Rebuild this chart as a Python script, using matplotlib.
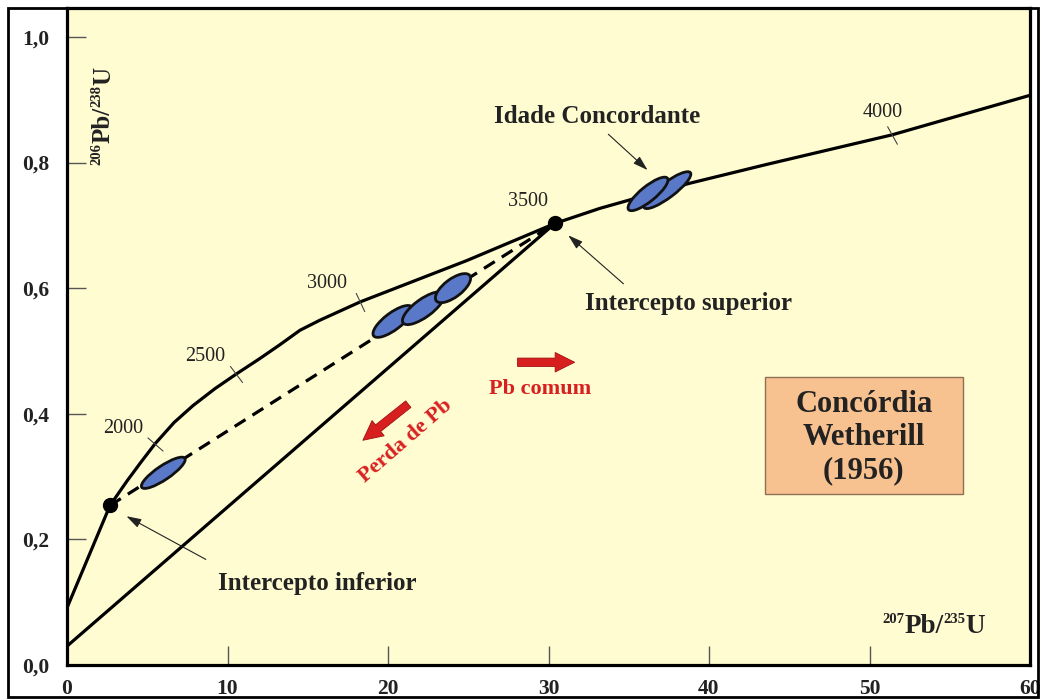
import numpy as np
import matplotlib.pyplot as plt
from matplotlib.patches import Ellipse, FancyArrowPatch, Rectangle
from matplotlib.transforms import ScaledTranslation

plt.rcParams['font.family'] = ['Liberation Serif', 'DejaVu Serif']

# Concordia curve
concordia_x = [0, 2.68, 3.74, 4.61, 5.48, 6.67, 7.85, 9.22, 10.59, 12.02, 13.27, 14.52,
               15.76, 18.26, 24.92, 30.4, 33.2, 36.8, 38.8, 43.6, 51.4, 60]
concordia_y = [0.091, 0.254, 0.293, 0.323, 0.352, 0.386, 0.413, 0.440, 0.464, 0.488,
               0.510, 0.533, 0.549, 0.578, 0.644, 0.703, 0.727, 0.753, 0.767, 0.797,
               0.844, 0.907]

# Intercepts (lower, upper) and origin of the solid discordia
intercept_x = [2.68, 30.4]
intercept_y = [0.254, 0.703]
discordia_x = [0, 30.4]
discordia_y = [0.030, 0.703]

# Age marks on the concordia
age_labels = ['2000', '2500', '3000', '3500', '4000']
age_tick_x = [5.5, 10.56, 18.26, None, 51.43]
age_tick_y = [0.352, 0.463, 0.578, None, 0.844]
age_tick_rot = [49, 37, 25, None, 29]
age_label_x = [3.49, 8.6, 16.2, 28.7, 50.8]
age_label_y = [0.376, 0.491, 0.608, 0.738, 0.880]

# Zircon analyses (error ellipses)
ell_x = [6.0, 20.3, 22.2, 24.05, 37.4, 36.2]
ell_y = [0.306, 0.547, 0.568, 0.600, 0.756, 0.750]
ell_len = [52, 48, 50, 42, 58, 50]   # pixels
ell_wid = [14, 17, 18, 18, 15, 15]
ell_rot = [34, 37, 36, 37, 37, 39]

x_ticks = [0, 10, 20, 30, 40, 50, 60]
y_ticks = [0.0, 0.2, 0.4, 0.6, 0.8, 1.0]
y_ticklabels = ['0,0', '0,2', '0,4', '0,6', '0,8', '1,0']

bg = '#fffcd2'
ell_color = '#5a78c8'
red = '#d81f1f'
ink = '#222222'

fig = plt.figure(figsize=(10.4, 7), dpi=100)
ax = fig.add_axes([67 / 1040, 35 / 700, 963 / 1040, 657 / 700])
ax.set_facecolor(bg)
ax.set_xlim(0, 60)
ax.set_ylim(0, 1.046)

# curves
ax.plot(concordia_x, concordia_y, color='black', lw=2.3, solid_joinstyle='round', zorder=3)
ax.plot(discordia_x, discordia_y, color='black', lw=2.3, zorder=3)
ax.plot(intercept_x, intercept_y, color='black', lw=2.3, linestyle=(0, (4, 2.6)), zorder=3)
ax.plot(intercept_x, intercept_y, 'o', color='black', markersize=10, zorder=6)

# age ticks + labels
for lab, tx, ty, rot, lx, ly in zip(age_labels, age_tick_x, age_tick_y, age_tick_rot,
                                   age_label_x, age_label_y):
    if tx is not None:
        ax.plot([tx], [ty], marker=(2, 0, rot), markersize=15, markeredgewidth=0.8,
                color='#444444', zorder=4)
    ax.text(lx, ly, lab, fontsize=14.5, ha='center', va='center', color=ink)

# ellipses, sized in pixels around a data centre
for ex, ey, el, ew, er in zip(ell_x, ell_y, ell_len, ell_wid, ell_rot):
    tr = fig.dpi_scale_trans + ScaledTranslation(ex, ey, ax.transData)
    e = Ellipse((0, 0), el / 100, ew / 100, angle=er, transform=tr,
                facecolor=ell_color, edgecolor='#111111', lw=2, zorder=5)
    ax.add_patch(e)

# annotations
bold = dict(fontsize=18, fontweight='bold', color=ink, ha='center', va='center')
ax.text(33.0, 0.874, 'Idade Concordante', **bold)
ax.text(38.7, 0.576, 'Intercepto superior', **bold)
ax.text(15.6, 0.129, 'Intercepto inferior', **bold)

thin = dict(arrowstyle='-|>,head_length=0.9,head_width=0.28', color=ink, lw=0.8)
ax.annotate('', xy=(36.3, 0.785), xytext=(33.6, 0.848), arrowprops=thin, zorder=6)
ax.annotate('', xy=(31.1, 0.687), xytext=(34.8, 0.604), arrowprops=thin, zorder=6)
ax.annotate('', xy=(3.55, 0.239), xytext=(8.8, 0.166), arrowprops=thin, zorder=6)

# red arrows
fat = 'simple,head_length=14,head_width=14,tail_width=6'
ax.add_patch(FancyArrowPatch((27.9, 0.482), (31.8, 0.482), arrowstyle=fat, mutation_scale=1,
                             facecolor=red, edgecolor='#a01010', lw=0.6, zorder=5))
ax.add_patch(FancyArrowPatch((21.4, 0.418), (18.3, 0.355), arrowstyle=fat, mutation_scale=1,
                             facecolor=red, edgecolor='#a01010', lw=0.6, zorder=5))
ax.text(29.5, 0.440, 'Pb comum', fontsize=16, fontweight='bold', color=red,
        ha='center', va='center')
ax.text(21.1, 0.357, 'Perda de Pb', fontsize=16, fontweight='bold', color=red,
        ha='center', va='center', rotation=41, rotation_mode='anchor')

# title box
ax.add_patch(Rectangle((43.5, 0.273), 12.3, 0.185, facecolor='#f7c290',
                       edgecolor='#8f7055', lw=1, zorder=4))
ax.text(49.65, 0.362, 'Concórdia\nWetherill\n(1956)', fontsize=22, fontweight='bold',
        color=ink, ha='center', va='center', linespacing=1.17, zorder=5)


# isotope ratio labels: small raised mass numbers
def iso_label(x, y, parts, rotation=0):
    renderer = fig.canvas.get_renderer()
    pos = 0.0
    for txt, size, rise in parts:
        if rotation == 0:
            off = (pos, rise)
        else:
            off = (-rise, pos)
        t = ax.annotate(txt, (x, y), xytext=off, textcoords='offset points',
                        fontsize=size, fontweight='bold', color=ink, rotation=rotation,
                        rotation_mode='anchor', ha='left', va='baseline')
        bb = t.get_window_extent(renderer)
        pos += (bb.width if rotation == 0 else bb.height) * 72 / fig.dpi


iso_label(50.8, 0.051, [('207', 10.5, 7.5), ('Pb/', 19.5, 0), ('235', 10.5, 7.5), ('U', 19.5, 0)])
iso_label(2.68, 0.796, [('206', 10.5, 7), ('Pb/', 18, 0), ('238', 10.5, 7), ('U', 18, 0)],
          rotation=90)

# axes styling
ax.set_xticks(x_ticks)
ax.set_xticklabels([str(t) for t in x_ticks], fontweight='bold')
ax.set_yticks(y_ticks)
ax.set_yticklabels(y_ticklabels, fontweight='bold')
ax.tick_params(direction='in', length=14, width=1, color='#555555', labelsize=15.5,
               labelcolor=ink)
ax.tick_params(axis='x', pad=10)
ax.tick_params(axis='y', pad=13)
for s in ax.spines.values():
    s.set_linewidth(2.3)
    s.set_color('black')

# outer frame of the figure
fig.patches.append(Rectangle((8 / 1040, 3 / 700), 1030 / 1040, 689 / 700, fill=False,
                             edgecolor='black', lw=2, transform=fig.transFigure))

fig.savefig('out.png', dpi=100)
